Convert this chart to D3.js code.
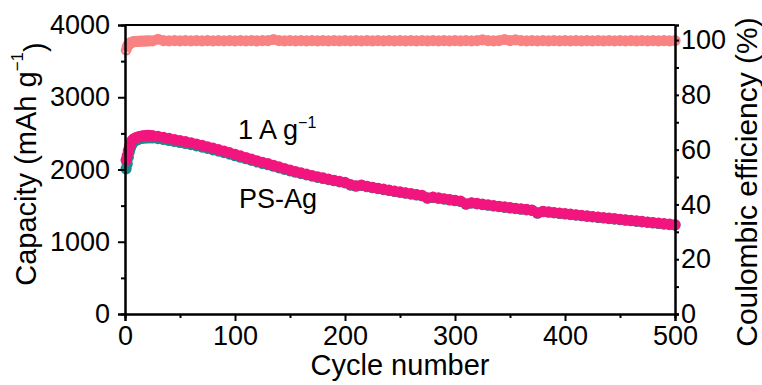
<!DOCTYPE html>
<html>
<head>
<meta charset="utf-8">
<script src="https://cdn.jsdelivr.net/npm/d3@7"></script>
<style>
  html, body { margin: 0; padding: 0; background: #fff; }
  svg { display: block; font-family: "Liberation Sans", Arial, sans-serif; }
</style>
</head>
<body>
<svg id="chart" width="762" height="385"></svg>
<script>
// Cycle numbers at which the cell was sampled
const cycles = [1,2,3,4,5,6,7,8,10,12,14,16,18,20,22,
  25,30,35,40,45,50,55,60,65,70,75,80,85,90,95,100,
  105,110,115,120,125,130,135,140,145,150,155,160,165,170,175,180,185,190,195,200,
  205,210,215,220,225,230,235,240,245,250,255,260,265,270,275,280,285,290,295,300,
  305,310,315,320,325,330,335,340,345,350,355,360,365,370,375,380,385,390,395,400,
  405,410,415,420,425,430,435,440,445,450,455,460,465,470,475,480,485,490,495,500];

// Charge capacity (mAh g-1)
const chargeCap = [2130,2190,2260,2320,2360,2390,2410,2425,2440,2452,2460,2466,2470,2472,2471,
  2468,2458,2445,2430,2415,2400,2385,2370,2352,2335,2315,2295,2275,2255,2233,2210,
  2188,2166,2143,2120,2098,2080,2058,2035,2013,1992,1972,1953,1935,1917,1900,1883,1867,1851,1836,1822,
  1790,1775,1785,1768,1754,1740,1727,1714,1701,1689,1677,1665,1653,1641,1608,1618,1606,1595,1584,1573,
  1562,1525,1540,1530,1520,1510,1500,1491,1482,1473,1464,1455,1447,1438,1400,1421,1413,1405,1397,1389,
  1381,1373,1365,1357,1349,1341,1334,1326,1319,1311,1303,1296,1288,1281,1273,1265,1258,1250,1243,1236];

// Discharge capacity (mAh g-1)
const dischargeCap = [2010,2080,2170,2250,2300,2340,2365,2385,2405,2418,2427,2433,2437,2439,2439,
  2437,2428,2416,2402,2388,2374,2360,2345,2328,2311,2292,2273,2254,2234,2213,2191,
  2170,2149,2127,2105,2084,2066,2045,2023,2002,1982,1962,1944,1926,1909,1892,1876,1860,1845,1830,1816,
  1784,1769,1779,1762,1748,1735,1722,1709,1696,1684,1672,1660,1648,1636,1603,1613,1601,1590,1579,1568,
  1557,1520,1535,1525,1515,1505,1495,1486,1477,1468,1459,1450,1442,1433,1395,1416,1408,1400,1392,1384,
  1376,1368,1360,1352,1344,1336,1329,1321,1314,1306,1298,1291,1283,1276,1268,1260,1253,1245,1238,1231];

// Coulombic efficiency (%)
const efficiency = [96.3,97.6,98.3,98.7,99.0,99.2,99.3,99.4,99.5,99.5,99.6,99.6,99.6,99.7,99.7,
  99.7,100.3,99.8,99.7,99.8,99.7,99.8,99.7,99.8,99.7,99.8,99.7,99.8,99.7,99.8,99.7,
  99.8,99.7,99.8,99.7,99.8,99.8,100.2,99.8,99.7,99.8,99.7,99.8,99.7,99.8,99.7,99.8,99.7,99.8,99.7,99.8,
  99.7,99.8,99.7,99.8,99.7,99.8,99.7,99.8,99.7,99.8,99.7,99.8,99.7,99.8,99.7,99.8,99.7,99.8,99.7,99.8,
  99.7,99.8,99.7,99.8,100.1,99.8,99.7,99.8,100.2,99.8,100.1,99.8,99.7,99.8,99.7,99.8,99.7,99.8,99.7,99.8,
  99.7,99.8,99.7,99.8,99.7,99.8,99.7,99.8,99.7,99.8,99.7,99.8,99.7,99.8,99.7,99.8,99.7,99.8,99.7,99.8];

// Axis ticks
const xTicks = [0,100,200,300,400,500];
const xMinor = [50,150,250,350,450];
const capTicks = [0,1000,2000,3000,4000];
const capMinor = [500,1500,2500,3500];
const ceTicks = [0,20,40,60,80,100];
const ceMinor = [10,30,50,70,90];

const svg = d3.select("#chart");
const m = { left: 125, right: 675, top: 25, bottom: 314 };

const x = d3.scaleLinear().domain([0, 500]).range([m.left, m.right]);
const yCap = d3.scaleLinear().domain([0, 4000]).range([m.bottom, m.top]);
const yCE = d3.scaleLinear().domain([0, 105.5]).range([m.bottom, m.top]);

const colCE = "#f98282";
const colDis = "#1b8a8f";
const colCh = "#f3157e";

// Coulombic efficiency markers (the first cycle is drawn open)
svg.append("g").selectAll("circle")
  .data(cycles.map((c, i) => [c, efficiency[i], i]))
  .join("circle")
  .attr("cx", d => x(d[0]))
  .attr("cy", d => yCE(d[1]))
  .attr("r", d => d[2] === 0 ? 4.2 : 5.6)
  .attr("fill", d => d[2] === 0 ? "#fff" : colCE)
  .attr("stroke", colCE)
  .attr("stroke-width", d => d[2] === 0 ? 2.4 : 0);

// Discharge capacity
svg.append("g").selectAll("circle")
  .data(cycles.map((c, i) => [c, dischargeCap[i]]))
  .join("circle")
  .attr("cx", d => x(d[0]))
  .attr("cy", d => yCap(d[1]))
  .attr("r", 5.6)
  .attr("fill", colDis);

// Charge capacity
svg.append("g").selectAll("circle")
  .data(cycles.map((c, i) => [c, chargeCap[i]]))
  .join("circle")
  .attr("cx", d => x(d[0]))
  .attr("cy", d => yCap(d[1]))
  .attr("r", 5.6)
  .attr("fill", colCh);

// Axes
function styleAxis(g) {
  g.selectAll(".domain").attr("stroke", "#000").attr("stroke-width", 2);
  g.selectAll(".tick line").attr("stroke", "#000").attr("stroke-width", 2);
  g.selectAll(".tick text").attr("fill", "#000").style("font-size", "27px")
    .style("font-family", "'Liberation Sans', Arial, sans-serif");
}

svg.append("g").attr("transform", `translate(0,${m.bottom})`)
  .call(d3.axisBottom(x).tickValues(xMinor).tickSize(4).tickFormat(""))
  .call(styleAxis);
svg.append("g").attr("transform", `translate(0,${m.bottom})`)
  .call(d3.axisBottom(x).tickValues(xTicks).tickSize(7).tickPadding(5).tickFormat(d3.format("d")))
  .call(styleAxis);

svg.append("g").attr("transform", `translate(${m.left},0)`)
  .call(d3.axisLeft(yCap).tickValues(capMinor).tickSize(4).tickFormat(""))
  .call(styleAxis);
svg.append("g").attr("transform", `translate(${m.left},0)`)
  .call(d3.axisLeft(yCap).tickValues(capTicks).tickSize(7).tickPadding(8).tickFormat(d3.format("d")))
  .call(styleAxis);

svg.append("g").attr("transform", `translate(${m.right},0)`)
  .call(d3.axisRight(yCE).tickValues(ceMinor).tickSize(4).tickFormat(""))
  .call(styleAxis);
svg.append("g").attr("transform", `translate(${m.right},0)`)
  .call(d3.axisRight(yCE).tickValues(ceTicks).tickSize(4).tickPadding(2).tickFormat(d3.format("d")))
  .call(styleAxis);

// Top frame line
svg.append("line")
  .attr("x1", m.left).attr("x2", m.right)
  .attr("y1", m.top).attr("y2", m.top)
  .attr("stroke", "#000").attr("stroke-width", 2);

// Axis titles
svg.append("text")
  .attr("x", (m.left + m.right) / 2).attr("y", 375)
  .attr("text-anchor", "middle")
  .style("font-size", "29px")
  .text("Cycle number");

const capTitle = svg.append("text")
  .attr("transform", `translate(36,164) rotate(-90)`)
  .attr("text-anchor", "middle")
  .style("font-size", "29px");
capTitle.append("tspan").text("Capacity (mAh g");
capTitle.append("tspan").attr("dy", "-0.75em").style("font-size", "17px").text("\u22121");
capTitle.append("tspan").attr("dy", "0.75em").text(")");

svg.append("text")
  .attr("transform", `translate(757,182) rotate(-90)`)
  .attr("text-anchor", "middle")
  .style("font-size", "30px")
  .text("Coulombic efficiency (%)");

// Annotations
const rate = svg.append("text")
  .attr("x", 238).attr("y", 139)
  .style("font-size", "27px");
rate.append("tspan").text("1 A g");
rate.append("tspan").attr("dy", "-0.7em").style("font-size", "16px").text("\u22121");

svg.append("text")
  .attr("x", 239).attr("y", 208)
  .style("font-size", "27px")
  .text("PS-Ag");
</script>
</body>
</html>
